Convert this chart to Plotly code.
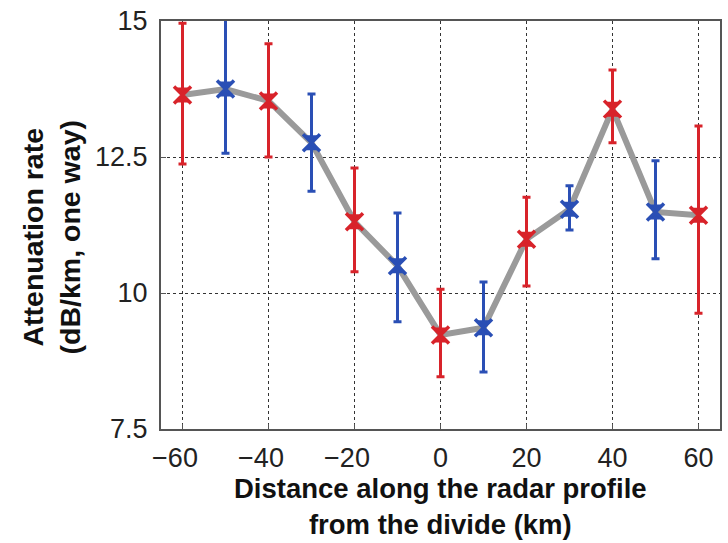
import plotly.graph_objects as go

distance = [-60, -50, -40, -30, -20, -10, 0, 10, 20, 30, 40, 50, 60]
attenuation = [13.64, 13.75, 13.53, 12.76, 11.31, 10.50, 9.23, 9.36, 10.99, 11.54, 13.38, 11.49, 11.43]
err_upper = [14.96, 15.05, 14.58, 13.66, 12.30, 11.47, 10.07, 10.20, 11.76, 11.97, 14.10, 12.43, 13.07]
err_lower = [12.37, 12.57, 12.50, 11.87, 10.39, 9.47, 8.46, 8.55, 10.13, 11.16, 12.76, 10.63, 9.63]
groups = ["red", "blue", "red", "blue", "red", "blue", "red", "blue", "red", "blue", "red", "blue", "red"]

x_ticks = [-60, -40, -20, 0, 20, 40, 60]
y_ticks = [7.5, 10, 12.5, 15]
y_labels = ["7.5", "10", "12.5", "15"]

colors = {"red": "#d8232a", "blue": "#2a4fb5"}

fig = go.Figure()
fig.add_trace(go.Scatter(x=distance, y=attenuation, mode="lines",
                         line=dict(color="#9a9a9a", width=6), hoverinfo="skip",
                         showlegend=False))
for g in ["red", "blue"]:
    idx = [i for i, v in enumerate(groups) if v == g]
    xs = [distance[i] for i in idx]
    ys = [attenuation[i] for i in idx]
    up = [err_upper[i] - attenuation[i] for i in idx]
    lo = [attenuation[i] - err_lower[i] for i in idx]
    fig.add_trace(go.Scatter(
        x=xs, y=ys, mode="markers", showlegend=False,
        marker=dict(symbol="hourglass", size=15, color=colors[g],
                    line=dict(color=colors[g], width=0)),
        error_y=dict(type="data", symmetric=False, array=up, arrayminus=lo,
                     color=colors[g], thickness=3, width=4),
    ))
    fig.add_trace(go.Scatter(
        x=xs, y=ys, mode="markers", showlegend=False, hoverinfo="skip",
        marker=dict(symbol="x-thin", size=17, line=dict(color=colors[g], width=3.5)),
    ))

font_family = "Liberation Sans, Arial, sans-serif"
x_labels = [("\u2212" + str(-v) + "\u00a0\u00a0") if v < 0 else str(v) for v in x_ticks]

fig.update_layout(
    width=728, height=543,
    margin=dict(l=161, r=6, t=21, b=114),
    plot_bgcolor="white", paper_bgcolor="white",
    font=dict(family=font_family, color="#222222", size=27),
    annotations=[
        dict(text="<b>Distance along the radar profile<br>from the divide (km)</b>",
             xref="paper", yref="paper", x=0.5, y=(429 - 471) / 408,
             xanchor="center", yanchor="top", showarrow=False,
             font=dict(size=27.5, color="#111111")),
        dict(text="<b>Attenuation rate<br>(dB/km, one way)</b>",
             xref="paper", yref="paper", x=(51 - 161) / 561, y=(429 - 237) / 408,
             xanchor="center", yanchor="middle", textangle=-90, showarrow=False,
             font=dict(size=28.5, color="#111111")),
    ],
)
fig.update_xaxes(
    range=[-65, 65], tickvals=x_ticks, ticktext=x_labels,
    showgrid=True, gridcolor="#333333", griddash="dot", gridwidth=1,
    showline=True, linecolor="#555555", linewidth=2, mirror=True,
    ticks="inside", ticklen=5, tickcolor="#555555", zeroline=False,
    tickfont=dict(size=27), ticklabelstandoff=4,
)
fig.update_yaxes(
    range=[7.5, 15], tickvals=y_ticks, ticktext=y_labels,
    showgrid=True, gridcolor="#333333", griddash="dot", gridwidth=1,
    showline=True, linecolor="#555555", linewidth=2, mirror=True,
    ticks="inside", ticklen=5, tickcolor="#555555", zeroline=False,
    tickfont=dict(size=27), ticklabelstandoff=6,
)
fig.write_html("out.html")
